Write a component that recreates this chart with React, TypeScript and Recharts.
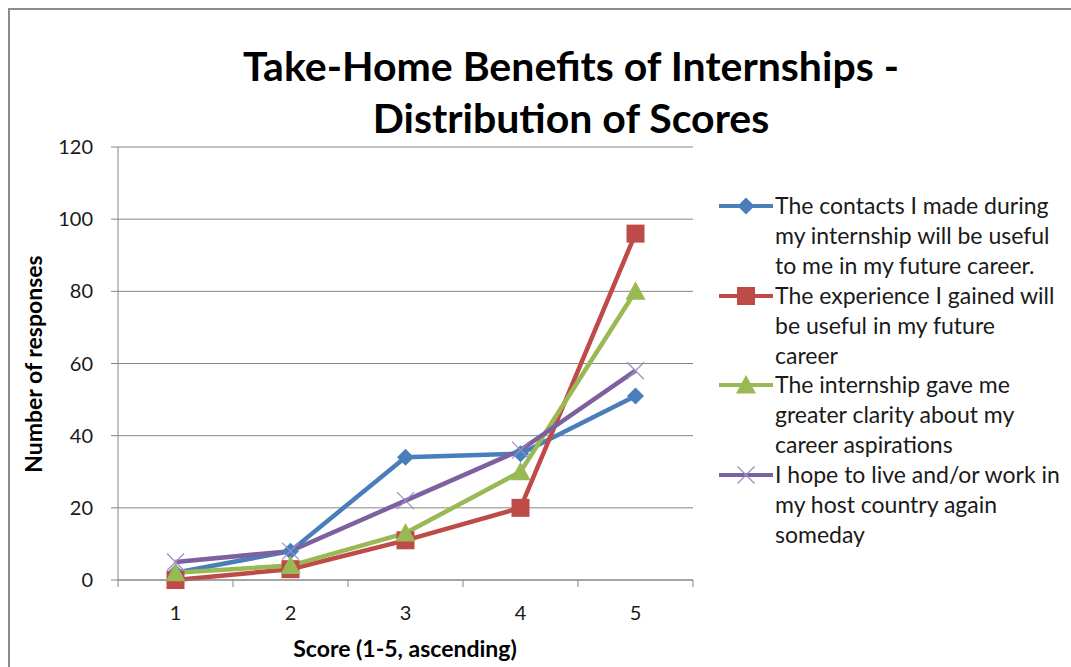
import { LineChart, Line, XAxis, YAxis, CartesianGrid } from 'recharts'

const scores = [1, 2, 3, 4, 5]
const contacts = [2, 8, 34, 35, 51]
const experience = [0, 3, 11, 20, 96]
const clarity = [2, 4, 13, 30, 80]
const hostCountry = [5, 8, 22, 36, 58]
const yTicks = [0, 20, 40, 60, 80, 100, 120]
const xTicks = [0.5, 1, 1.5, 2, 2.5, 3, 3.5, 4, 4.5, 5, 5.5]

const seriesKeys = ['contacts', 'experience', 'clarity', 'hostCountry']
const seriesColors = ['#4a7ebb', '#be4b48', '#98b954', '#7d60a0']
const seriesShapes = ['diamond', 'square', 'triangle', 'cross']
const legendLines = [
  ['The contacts I made during', 'my internship will be useful', 'to me in my future career.'],
  ['The experience I gained will', 'be useful in my future', 'career'],
  ['The internship gave me', 'greater clarity about my', 'career aspirations'],
  ['I hope to live and/or work in', 'my host country again', 'someday'],
]

const chartData = scores.map((s, i) => ({
  score: s,
  contacts: contacts[i],
  experience: experience[i],
  clarity: clarity[i],
  hostCountry: hostCountry[i],
}))

const FONT = 'Lato, "Open Sans", sans-serif'
const GRID = '#868686'

function Marker({ shape, color, cx, cy }: { shape: string; color: string; cx: number; cy: number }) {
  if (cx == null || cy == null) return null
  if (shape === 'diamond') {
    const r = 8.5
    return <polygon points={`${cx},${cy - r} ${cx + r},${cy} ${cx},${cy + r} ${cx - r},${cy}`} fill={color} />
  }
  if (shape === 'square') {
    const r = 9
    return <rect x={cx - r} y={cy - r} width={r * 2} height={r * 2} fill={color} />
  }
  if (shape === 'triangle') {
    const r = 10
    return <polygon points={`${cx},${cy - r} ${cx + r},${cy + r * 0.85} ${cx - r},${cy + r * 0.85}`} fill={color} />
  }
  const r = 8.5
  return (
    <g stroke="#9f8cc4" strokeWidth={1.2}>
      <line x1={cx - r} y1={cy - r} x2={cx + r} y2={cy + r} />
      <line x1={cx - r} y1={cy + r} x2={cx + r} y2={cy - r} />
    </g>
  )
}

function XTick({ x, y, payload }: any) {
  const v = payload.value
  if (v % 1 !== 0) {
    return <line x1={x} y1={y} x2={x} y2={y + 7} stroke={GRID} strokeWidth={1} />
  }
  return (
    <text x={x} y={y + 40} textAnchor="middle" fontSize={20} fontFamily={FONT} fill="#1a1a1a">
      {v}
    </text>
  )
}

function LegendBox() {
  return (
    <div style={{ fontFamily: FONT, fontSize: 23, color: '#1a1a1a', lineHeight: '29.9px' }}>
      {legendLines.map((lines, i) => (
        <div key={i} style={{ position: 'relative', paddingLeft: 57 }}>
          <svg width={58} height={30} style={{ position: 'absolute', left: 0, top: 0 }}>
            <line x1={1} y1={15} x2={55} y2={15} stroke={seriesColors[i]} strokeWidth={4} />
            <Marker shape={seriesShapes[i]} color={seriesColors[i]} cx={28} cy={15} />
          </svg>
          {lines.map((t, j) => (
            <div key={j} style={{ whiteSpace: 'nowrap' }}>{t}</div>
          ))}
        </div>
      ))}
    </div>
  )
}

export default function App() {
  return (
    <div style={{ position: 'absolute', left: 0, top: 0, width: 1071, height: 667, overflow: 'hidden', background: '#fff' }}>
      <div
        style={{
          position: 'absolute', left: 8, top: 8, width: 1100, height: 700,
          borderTop: '2px solid #8c8c8c', borderLeft: '2px solid #8c8c8c',
        }}
      />
      <LineChart
        width={1071}
        height={667}
        data={chartData}
        margin={{ top: 147, right: 378, bottom: 0, left: 58 }}
      >
        <CartesianGrid horizontal vertical={false} stroke={GRID} strokeWidth={1} />
        <XAxis
          dataKey="score"
          type="number"
          domain={[0.5, 5.5]}
          ticks={xTicks}
          interval={0}
          tick={<XTick />}
          tickLine={false}
          tickSize={0}
          tickMargin={0}
          height={87}
          axisLine={{ stroke: GRID }}
        />
        <YAxis
          domain={[0, 120]}
          ticks={yTicks}
          interval={0}
          width={60}
          tickSize={7}
          tickMargin={18}
          tickLine={{ stroke: GRID }}
          axisLine={{ stroke: GRID }}
          tick={{ fontSize: 20, fontFamily: FONT, fill: '#1a1a1a' }}
        />
        {seriesKeys.map((k, i) => (
          <Line
            key={k}
            dataKey={k}
            type="linear"
            stroke={seriesColors[i]}
            strokeWidth={4.5}
            isAnimationActive={false}
            dot={(p: any) => <Marker key={`${k}-${p.index}`} shape={seriesShapes[i]} color={seriesColors[i]} cx={p.cx} cy={p.cy} />}
            activeDot={false}
          />
        ))}
      </LineChart>
      <div style={{ position: 'absolute', left: 718, top: 191, width: 353 }}>
        <LegendBox />
      </div>
      <div
        style={{
          position: 'absolute', left: 0, width: 1142, top: 40, textAlign: 'center',
          fontFamily: FONT, fontWeight: 700, fontSize: 41, lineHeight: '52px', color: '#000',
        }}
      >
        Take-Home Benefits of Internships -<br />Distribution of Scores
      </div>
      <div
        style={{
          position: 'absolute', left: 405, top: 648, transform: 'translate(-50%, -50%)',
          fontFamily: FONT, fontWeight: 700, fontSize: 23, color: '#000', whiteSpace: 'nowrap',
        }}
      >
        Score (1-5, ascending)
      </div>
      <div
        style={{
          position: 'absolute', left: 33, top: 364, transform: 'translate(-50%, -50%) rotate(-90deg)',
          fontFamily: FONT, fontWeight: 700, fontSize: 23, color: '#000', whiteSpace: 'nowrap',
        }}
      >
        Number of responses
      </div>
    </div>
  )
}
